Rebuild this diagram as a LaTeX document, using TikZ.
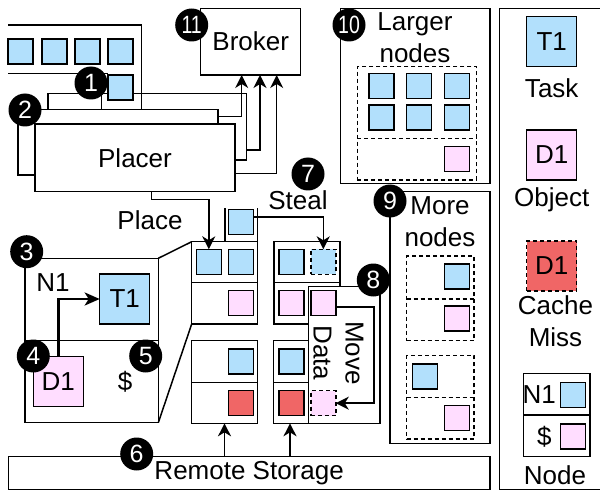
\documentclass[tikz,border=0pt]{standalone}
\usepackage{fontspec}
\setmainfont{Liberation Sans}
\usetikzlibrary{arrows.meta}
\definecolor{tblue}{RGB}{178,224,252}
\definecolor{opink}{RGB}{255,221,255}
\definecolor{mred}{RGB}{240,102,102}
\begin{document}
\begin{tikzpicture}[x=1pt,y=-1pt,line width=1.5pt,
  every node/.style={inner sep=0pt,outer sep=0pt},
  lbl/.style={font=\fontsize{26}{32}\selectfont,align=center},
  sq/.style={draw,minimum size=25pt},
  tsk/.style={sq,fill=tblue},
  obj/.style={sq,fill=opink},
  mis/.style={sq,fill=mred},
  dsh/.style={dash pattern=on 4pt off 3pt},
  num/.style={circle,fill=black,text=white,minimum size=33pt,font=\fontsize{25}{25}\selectfont},
  arr/.style={-{Stealth[length=13pt,width=13pt,inset=4pt]}},
  bx/.style n args={2}{draw,fill=white,anchor=north west,minimum width=#1pt,minimum height=#2pt},
]
\useasboundingbox (0,0) rectangle (600,492);

% ---------- legend and right-hand boxes ----------
\node[bx={102.7}{481}] (LG) at (499.3,8.3) {};
\node[tsk,minimum size=50pt,lbl] (lt1) at (551.7,41.7) {T1};
\node[lbl] (ltask) at (551.7,88.3) {Task};
\node[obj,minimum size=50pt,lbl] (ld1) at (551.7,155) {D1};
\node[lbl] (lobj) at (551.7,200) {Object};
\node[mis,dsh,minimum size=50pt,lbl] (lmis) at (551.7,266) {D1};
\node[lbl] (lcm) at (555.5,321) {Cache\\Miss};
\node[bx={66.7}{83.4}] (NL) at (523.3,373.3) {};
\draw (523.3,415) -- (590,415);
\node[lbl] (ln1) at (539.3,394.3) {N1};
\node[tsk] (lnt) at (573.2,394.8) {};
\node[lbl] (lnc) at (544.3,436.7) {\$};
\node[obj] (lno) at (573.2,436.5) {};
\node[lbl] (lnode) at (555,475) {Node};

% Larger nodes
\node[bx={149.3}{175}] (LN) at (340.7,8.3) {};
\node[lbl] (lntxt) at (415,37.5) {Larger\\nodes};
\node[bx={119.4}{113.3},dsh] (DL) at (357.3,66.7) {};
\draw[dsh] (357.3,138.3) -- (476.7,138.3);
\foreach \i/\x in {1/381.5,2/419.2,3/456.8}{
  \node[tsk] (ln\i a) at (\x,85.8) {};
  \node[tsk] (ln\i b) at (\x,117.5) {};
}
\node[obj] (lnp) at (456.8,159.2) {};

% More nodes
\node[bx={100}{251.6}] (MN) at (390,191.7) {};
\node[lbl] (mntxt) at (440,222) {More\\nodes};
\node[bx={67.3}{84.7},dsh] (DA) at (406.7,256) {};
\draw[dsh] (406.7,299) -- (474,299);
\node[tsk] (dat) at (457,276.5) {};
\node[obj] (dao) at (457,318.3) {};
\node[bx={67.3}{83.3},dsh] (DB) at (406.7,355.7) {};
\draw[dsh] (406.7,397.3) -- (474,397.3);
\node[tsk] (dbt) at (424.8,376.5) {};
\node[obj] (dbo) at (457,418.2) {};

% ---------- Broker and placers ----------
\node[bx={100}{66.7},lbl] (BR) at (200.7,8.3) {Broker};
\node[bx={198.7}{66.7}] (PA) at (48,93.3) {};
% queue
\draw (8,25) -- (141.7,25) -- (141.7,109);
\draw (8,73.3) -- (108,73.3);
\draw (101.7,93.3) -- (101.7,109);
\foreach \i/\x in {1/20.5,2/54.5,3/87.5,4/120.5}{\node[tsk] (q\i) at (\x,51.5) {};}
\node[tsk] (q5) at (120.5,87.5) {};
\node[bx={200}{65.7}] (PB) at (18,109.3) {};
\node[bx={200}{67.7},lbl] (PC) at (35,124) {Placer};

\draw[arr] ([yshift=-7.4pt]PB.north east) -| ([xshift=41pt]BR.south west);
\draw[arr] ([yshift=10pt]PA.south east) -| ([xshift=59.3pt]BR.south west);
\draw[arr] ([yshift=18.4pt]PC.south east) -| ([xshift=76pt]BR.south west);

% ---------- Node detail ----------
\node[bx={133.3}{164.4}] (ND) at (25,258.3) {};
\draw (25,340.7) -- (158.3,340.7);
\node[lbl] (n1txt) at (53,282.7) {N1};
\node[tsk,minimum size=50pt,lbl] (T1) at (124.7,299) {T1};
\node[obj,minimum size=50pt,lbl] (D1) at (58.3,381.7) {D1};
\node[lbl] (cache) at (125,381.7) {\$};
\draw[line width=2.8pt,-{Stealth[length=15pt,width=13pt,inset=4pt]}] (D1.north) |- (T1.west);

% ---------- node groups ----------
\node[bx={65.6}{82.3}] (G1) at (191.7,241.7) {};
\draw (191.7,282.7) -- (257.3,282.7);
\draw (225,208) -- (225,241.7);
\draw (257.3,208) -- (257.3,241.7);
\node[tsk] (g1a) at (208.8,261.8) {};
\node[tsk] (g1b) at (240.8,261.8) {};
\node[obj] (g1c) at (240.8,303.2) {};
\node[tsk] (st) at (241.2,221.8) {};

\node[bx={66}{82.3}] (G2) at (274,241.7) {};
\draw (274,282.7) -- (340,282.7);
\node[tsk] (g2a) at (291.7,261.8) {};
\node[tsk,dsh] (g2b) at (323.3,261.8) {};
\node[obj] (g2c) at (291.7,303.2) {};

\node[bx={65.6}{82.6}] (G3) at (191.7,340.7) {};
\draw (191.7,382.7) -- (257.3,382.7);
\node[tsk] (g3a) at (240.8,361.7) {};
\node[mis] (g3b) at (240.8,402.8) {};

\node[bx={66.7}{82.6}] (G4) at (273.3,340.7) {};
\draw (273.3,382.7) -- (340,382.7);
\node[tsk] (g4a) at (291.7,361.7) {};
\node[mis] (g4b) at (291.7,402.8) {};

% zoom lines
\draw (ND.north east) -- (G1.north west);
\draw (ND.south east) -- (G1.south west);

% Move data box
\node[bx={71.7}{136.6}] (MV) at (308.3,286.7) {};
\node[obj] (mp) at (323.3,303.2) {};
\node[obj,dsh] (dp) at (323.3,403.2) {};
\node[lbl,rotate=-90] (mvtxt) at (338.5,353) {Move\\Data};
\draw[arr] ([yshift=-4pt]mp.east) -- ++(38.3,0) |- (dp.east);

% Place and steal
\draw[arr] ([xshift=116.7pt]PC.south west) -- ++(0,7.6) -| (g1a.north);
\node[lbl] (place) at (150,220) {Place};
\draw[arr] ([yshift=5pt]st.east) -| (g2b.north);
\node[lbl] (steal) at (298,200) {Steal};

% Remote storage
\node[bx={481.7}{32.6},lbl] (RS) at (8.3,456.7) {Remote Storage};
\draw[arr] (RS.north -| G3.south) -- (G3.south);
\draw[arr] ([xshift=16.7pt]G4.south west |- RS.north) -- ([xshift=16.7pt]G4.south west);

% ---------- number circles ----------
\node[num] (c1) at (91,83) {1};
\node[num] (c2) at (25,110) {2};
\node[num] (c3) at (26.7,251.7) {3};
\node[num] (c4) at (33.3,356) {4};
\node[num] (c5) at (145.7,356) {5};
\node[num] (c6) at (136.7,454) {6};
\node[num] (c7) at (308,174) {7};
\node[num] (c8) at (373.3,280) {8};
\node[num] (c9) at (390,201) {9};
\node[num] (c10) at (349,25) {\scalebox{0.78}[1]{10}};
\node[num] (c11) at (191.7,25) {\scalebox{0.78}[1]{11}};
\end{tikzpicture}
\end{document}
